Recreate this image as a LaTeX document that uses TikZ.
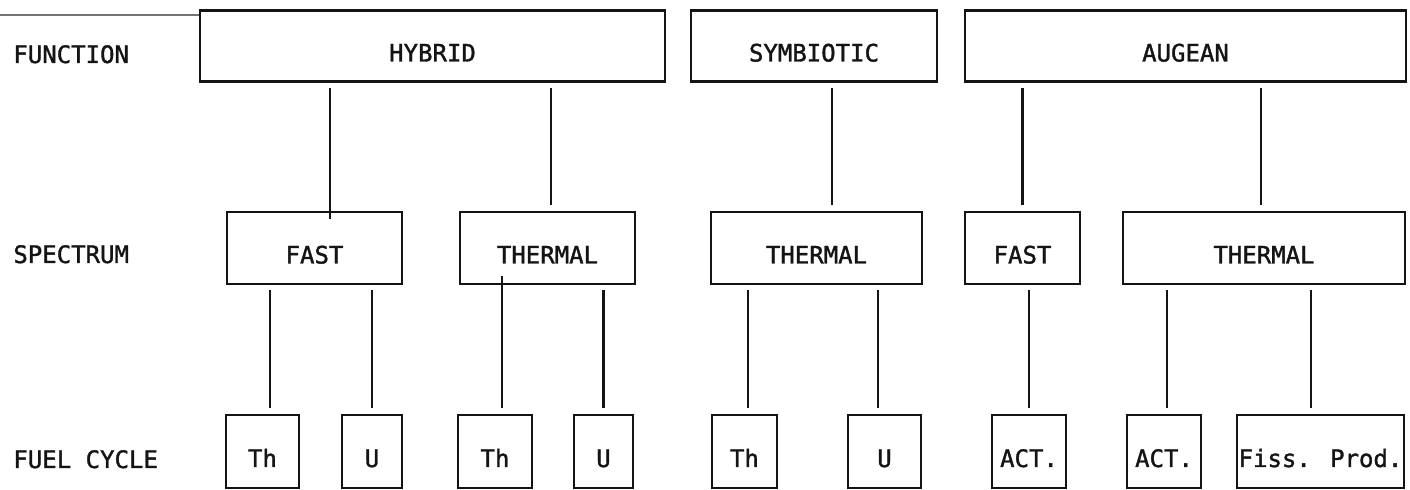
\documentclass[tikz,border=0pt]{standalone}
\usepackage{fontspec}
\newfontfamily\typewr[FakeBold=1.4]{DejaVu Sans Mono}
\definecolor{cink}{HTML}{141414}
\newcommand{\pxsize}{0.5}

\begin{document}
\begin{tikzpicture}[
    x=\pxsize pt, y=-\pxsize pt,
    typed/.style={font=\typewr\fontsize{12}{14}\selectfont, text=cink},
    box/.style 2 args={typed, draw=cink, line width=1.2pt, inner sep=0pt,
        minimum width=#1*\pxsize pt, minimum height=#2*\pxsize pt,
        text height=15.5pt, text depth=0pt},
    rowlbl/.style={typed, anchor=base west, inner sep=0pt},
    link/.style={draw=cink, line width=1.1pt, shorten <=3pt, shorten >=2.5pt},
    rule/.style={draw=black!55, line width=0.6pt},
]

% Page area (pixel units of the scan, y downwards)
\fill[white] (0,0) rectangle (1410,490);
\useasboundingbox (0,0) rectangle (1410,490);

% --- Row labels ---
\node[rowlbl] (lfunc) at (13,63) {FUNCTION};
\node[rowlbl] (lspec) at (13,263) {SPECTRUM};
\node[rowlbl] (lfuel) at (13,468) {FUEL CYCLE};

% --- Function row ---
\node[box={465}{71}] (hybrid) at (432.5,46) {HYBRID};
\node[box={246}{71}] (symb)   at (814,46)   {SYMBIOTIC};
\node[box={441}{71}] (augean) at (1185.5,46) {AUGEAN};

% rule line at the top left of the sheet
\coordinate (ruleL) at (0,15);
\draw[rule] (ruleL) -- (ruleL -| hybrid.west);

% --- Spectrum row ---
\node[box={175}{72}] (fasth)  at (314.5,248) {FAST};
\node[box={175}{72}] (thermh) at (547.5,248) {THERMAL};
\node[box={211}{72}] (therms) at (816.5,248) {THERMAL};
\node[box={115}{72}] (fasta)  at (1022.5,248) {FAST};
\node[box={282}{72}] (therma) at (1264,248) {THERMAL};

% --- Fuel cycle row ---
\node[box={73}{73}]  (thh)  at (262.5,451.5) {Th};
\node[box={60}{73}]  (uh)   at (372,451.5)   {U};
\node[box={74}{73}]  (thh2) at (495,451.5)   {Th};
\node[box={59}{73}]  (uh2)  at (603.5,451.5) {U};
\node[box={65}{73}]  (ths)  at (744.5,451.5) {Th};
\node[box={73}{73}]  (us)   at (884.5,451.5) {U};
\node[box={74}{73}]  (acta) at (1029,451.5)  {ACT.};
\node[box={74}{73}]  (actb) at (1164,451.5)  {ACT.};
\node[box={167}{73}] (fiss) at (1320.5,451.5) {Fiss. Prod.};

% --- Connectors: parent/child/offset of the line from the child centre ---
\foreach \p/\c/\dx in {hybrid/thermh/1.75, symb/therms/7.75, augean/fasta/0,
        augean/therma/-1.5, fasth/thh/3.75, fasth/uh/0, thermh/uh2/0,
        therms/ths/1.75, therms/us/-3.25, fasta/acta/0, therma/actb/1.5,
        therma/fiss/-4.75} {
    \draw[link] ([xshift=\dx pt]\c.north) -- ([xshift=\dx pt]\c.north |- \p.south);
}
% these two run into the box
\draw[link, shorten <=-4pt] ([xshift=7.75pt]fasth.north) -- ([xshift=7.75pt]fasth.north |- hybrid.south);
\draw[link, shorten >=-4.5pt] ([xshift=3.5pt]thh2.north) -- ([xshift=3.5pt]thh2.north |- thermh.south);

\end{tikzpicture}
\end{document}
